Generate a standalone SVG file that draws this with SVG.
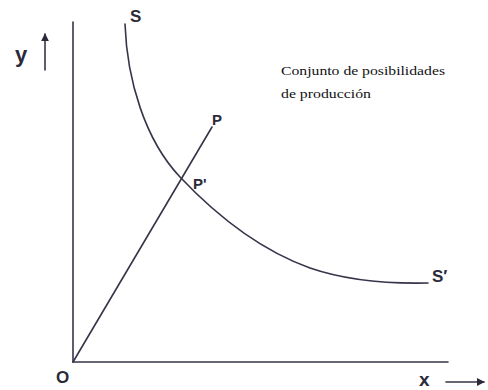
<svg xmlns="http://www.w3.org/2000/svg" width="488" height="390" viewBox="0 0 488 390">
<style>
.ln{stroke:#35354a;stroke-width:1.6;fill:none;stroke-linecap:round}
.lb{font-family:"Liberation Sans",Arial,sans-serif;font-weight:bold;fill:#2a2a3a}
.tx{font-family:"Liberation Serif","Times New Roman",serif;fill:#111}
</style>
<defs>
<marker id="ah" viewBox="0 0 10 10" refX="9" refY="5" markerWidth="5" markerHeight="5" orient="auto">
<path d="M0,0 L10,5 L0,10 Z" fill="#2a2a3a"/>
</marker>
</defs>
<rect width="488" height="390" fill="#fff"/>
<g id="connectors">
<path id="y-axis" class="ln" d="M73,22 L73,362"/>
<path id="x-axis" class="ln" d="M73,362 L448,362"/>
<path id="line-OP" class="ln" d="M73,362 L212,127"/>
<path id="curve-SS" class="ln" d="M125,24 C127,80 145,140 180,177 C215,214 260,250 310,268 C345,280 385,284 428,283"/>
<path id="y-arrow" class="ln" d="M45,70 L45,34" marker-end="url(#ah)"/>
<path id="x-arrow" class="ln" d="M446,382 L484,382" marker-end="url(#ah)"/>
</g>
<g id="label-y"><text class="lb" x="15" y="62" font-size="22">y</text></g>
<g id="label-S"><text class="lb" x="130" y="22" font-size="17">S</text></g>
<g id="label-P"><text class="lb" x="212" y="125" font-size="15">P</text></g>
<g id="label-Pp"><text class="lb" x="193" y="189" font-size="15">P'</text></g>
<g id="label-Sp"><text class="lb" x="432" y="282" font-size="17">S′</text></g>
<g id="label-O"><text class="lb" x="56" y="383" font-size="17">O</text></g>
<g id="label-x"><text class="lb" x="419" y="386" font-size="19">x</text></g>
<g id="caption">
<text class="tx" x="281" y="75" font-size="13" textLength="164" lengthAdjust="spacingAndGlyphs">Conjunto de posibilidades</text>
<text class="tx" x="281" y="98" font-size="13" textLength="90" lengthAdjust="spacingAndGlyphs">de producción</text>
</g>
</svg>
